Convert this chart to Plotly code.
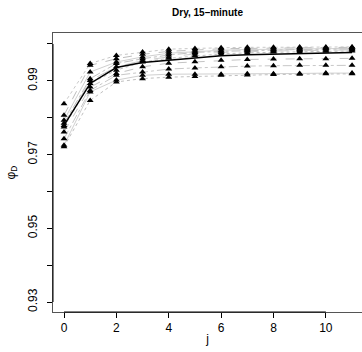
import plotly.graph_objects as go

j = list(range(12))

series = {
    "s1": [0.9838, 0.9947, 0.9969, 0.9978, 0.9986, 0.9988, 0.9990, 0.9991, 0.9991, 0.9992, 0.9992, 0.9992],
    "s2": [0.9807, 0.9942, 0.9960, 0.9972, 0.9980, 0.9984, 0.9987, 0.9988, 0.9989, 0.9990, 0.9990, 0.9991],
    "s3": [0.9793, 0.9924, 0.9951, 0.9965, 0.9975, 0.9980, 0.9983, 0.9985, 0.9986, 0.9987, 0.9988, 0.9988],
    "s4": [0.9785, 0.9906, 0.9947, 0.9960, 0.9970, 0.9977, 0.9980, 0.9982, 0.9984, 0.9985, 0.9986, 0.9986],
    "s5": [0.9779, 0.9901, 0.9938, 0.9955, 0.9965, 0.9973, 0.9977, 0.9980, 0.9981, 0.9982, 0.9983, 0.9984],
    "s6": [0.9775, 0.9893, 0.9929, 0.9951, 0.9961, 0.9968, 0.9973, 0.9976, 0.9978, 0.9979, 0.9980, 0.9981],
    "s7": [0.9761, 0.9883, 0.9920, 0.9938, 0.9948, 0.9952, 0.9956, 0.9958, 0.9959, 0.9960, 0.9960, 0.9961],
    "s8": [0.9743, 0.9874, 0.9915, 0.9924, 0.9932, 0.9935, 0.9938, 0.9940, 0.9941, 0.9942, 0.9942, 0.9942],
    "s9": [0.9725, 0.9870, 0.9902, 0.9915, 0.9918, 0.9918, 0.9918, 0.9919, 0.9919, 0.9920, 0.9921, 0.9921],
    "s10": [0.9721, 0.9847, 0.9897, 0.9906, 0.9910, 0.9912, 0.9915, 0.9916, 0.9917, 0.9918, 0.9919, 0.9919],
}
mean_line = [0.9779, 0.9893, 0.9936, 0.9950, 0.9956, 0.9962, 0.9968, 0.9971, 0.9973, 0.9975, 0.9976, 0.9977]

x_ticks = [0, 2, 4, 6, 8, 10]
y_ticks = [0.93, 0.95, 0.97, 0.99]

styles = [
    ("#c8c8c8", "dot"), ("#bdbdbd", "dash"), ("#d0d0d0", "solid"), ("#c0c0c0", "dashdot"),
    ("#cccccc", "longdash"), ("#bfbfbf", "dot"), ("#c4c4c4", "dash"), ("#c8c8c8", "dashdot"),
    ("#d0d0d0", "solid"), ("#c0c0c0", "dot"),
]

fig = go.Figure()
for (name, vals), (col, dash) in zip(series.items(), styles):
    fig.add_trace(go.Scatter(
        x=j, y=vals, mode="lines", name=name,
        line=dict(color=col, width=1, dash=dash), showlegend=False,
    ))
fig.add_trace(go.Scatter(
    x=j, y=mean_line, mode="lines", line=dict(color="black", width=1.5), showlegend=False,
))
for name, vals in series.items():
    fig.add_trace(go.Scatter(
        x=j, y=vals, mode="markers",
        marker=dict(symbol="triangle-up", color="black", size=6, line=dict(width=0)),
        showlegend=False,
    ))

font = "Liberation Sans, Arial, Helvetica, sans-serif"
fig.update_layout(
    width=362, height=352,
    margin=dict(l=53, r=0, t=33, b=40),
    paper_bgcolor="white", plot_bgcolor="white",
    font=dict(family=font, size=12, color="black"),
    title=dict(text="<b>Dry, 15–minute</b>", x=0.5, xref="paper", y=1 - 12.5 / 352,
               yanchor="middle", xanchor="center", font=dict(size=10, family=font)),
    xaxis=dict(
        range=[-0.42, 11.38], tickvals=x_ticks, ticktext=[str(v) for v in x_ticks],
        ticks="outside", ticklen=5, tickcolor="black", showgrid=False, zeroline=False,
        showline=True, mirror=True, linecolor="#555555", linewidth=1,
        title=dict(text="j", standoff=0, font=dict(size=12)),
    ),
    yaxis=dict(
        range=[0.92729, 1.00298], tickvals=y_ticks, ticktext=[f"{v:.2f}" for v in y_ticks],
        ticks="outside", ticklen=5, tickcolor="black", showgrid=False, zeroline=False,
        minor=dict(tick0=0.93, dtick=0.01, ticks="outside", ticklen=5, tickcolor="black"),
        showline=True, mirror=True, linecolor="#555555", linewidth=1, tickangle=-90,
        ticklabelstandoff=5,
        title=dict(text="φ<sub>D</sub>", standoff=8, font=dict(size=12)),
    ),
)
fig.add_shape(type="line", xref="x", yref="paper", x0=0, x1=10, y0=0, y1=0,
              line=dict(color="black", width=1))
fig.add_shape(type="line", xref="paper", yref="y", x0=0, x1=0, y0=0.93, y1=1.00,
              line=dict(color="black", width=1))

fig.write_html("out.html")
